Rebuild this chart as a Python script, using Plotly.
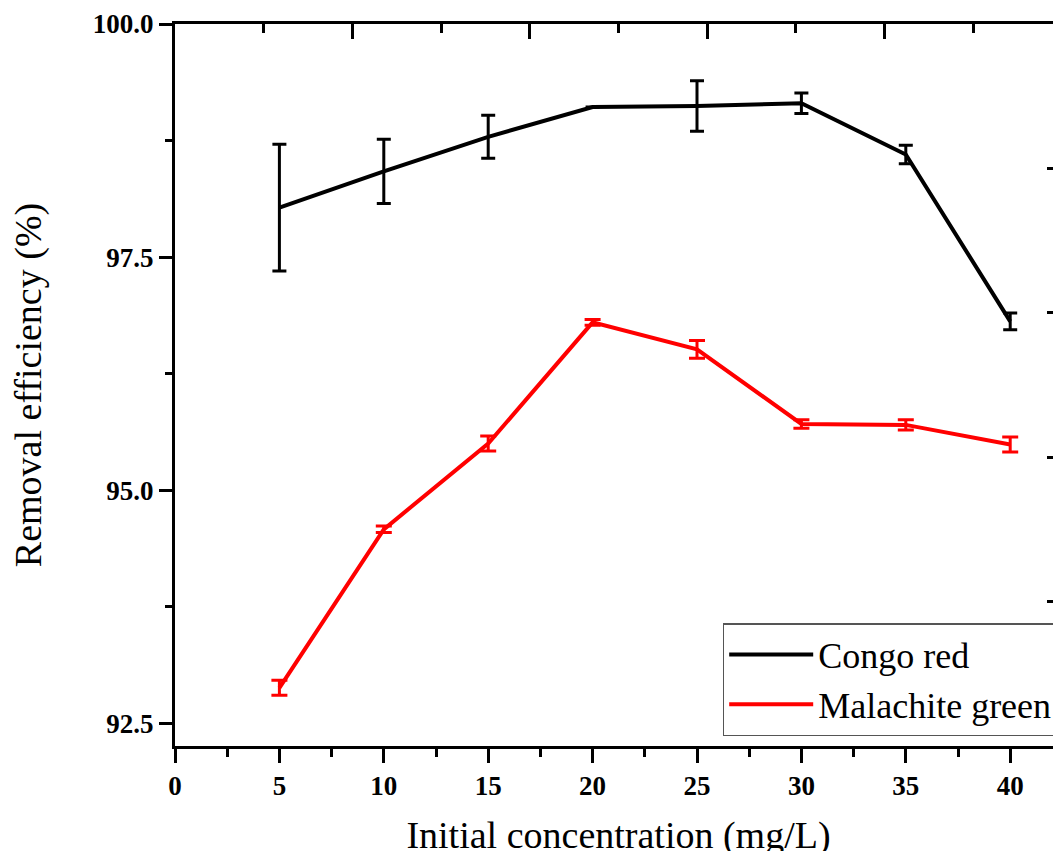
import plotly.graph_objects as go

# ---- data ----
concentration = [5, 10, 15, 20, 25, 30, 35, 40]

congo_red = [98.03, 98.42, 98.79, 99.11, 99.12, 99.15, 98.60, 96.81]
congo_red_err = [0.68, 0.345, 0.23, 0.0, 0.27, 0.11, 0.10, 0.09]

malachite_green = [92.88, 94.58, 95.50, 96.80, 96.51, 95.71, 95.70, 95.49]
malachite_green_err = [0.08, 0.035, 0.08, 0.03, 0.095, 0.045, 0.055, 0.08]

x_ticks = [0, 5, 10, 15, 20, 25, 30, 35, 40]
y_ticks = [92.5, 95.0, 97.5, 100.0]

series_names = ["Congo red", "Malachite green"]
x_title = "Initial concentration (mg/L)"
y_title = "Removal efficiency (%)"

SERIF = "Liberation Serif, Times New Roman, serif"

fig = go.Figure()
fig.add_trace(go.Scatter(
    x=concentration, y=congo_red, name=series_names[0], mode="lines",
    line=dict(color="black", width=4),
    error_y=dict(type="data", array=congo_red_err, visible=True,
                 color="black", thickness=3, width=7),
))
fig.add_trace(go.Scatter(
    x=concentration, y=malachite_green, name=series_names[1], mode="lines",
    line=dict(color="#ff0000", width=4),
    error_y=dict(type="data", array=malachite_green_err, visible=True,
                 color="#ff0000", thickness=3, width=8),
))
# invisible trace to activate the top / right frame axes
fig.add_trace(go.Scatter(x=[0], y=[0], xaxis="x2", yaxis="y2", mode="markers",
                         marker=dict(opacity=0), showlegend=False, hoverinfo="skip"))

# The reference is a crop: the plot frame continues a little past the right edge,
# so the page is drawn slightly larger than the 1053x851 window and clipped.
W, H = 1064, 857
L, R, T, B = 175, 2, 24, 111
plot_w = W - L - R
plot_h = H - T - B
px_per_x = 20.88
x_max = plot_w / px_per_x

fig.update_layout(
    template="none",
    width=W, height=H,
    margin=dict(l=L, r=R, t=T, b=B, pad=0, autoexpand=False),
    paper_bgcolor="white", plot_bgcolor="white",
    font=dict(family=SERIF, color="black"),
    showlegend=True,
    legend=dict(
        x=(722.7 - L) / plot_w, y=(746 - 623) / plot_h,
        xanchor="left", yanchor="top",
        bgcolor="white", bordercolor="#555555", borderwidth=1.5,
        font=dict(family=SERIF, size=36, color="black"),
        itemwidth=84, tracegroupgap=0,
    ),
    xaxis=dict(
        range=[0, x_max], tickvals=x_ticks, ticktext=[str(v) for v in x_ticks],
        showline=True, linecolor="black", linewidth=3, automargin=False,
        ticks="outside", ticklen=14, tickwidth=3, tickcolor="black",
        minor=dict(tickvals=[2.5, 7.5, 12.5, 17.5, 22.5, 27.5, 32.5, 37.5, 42.5],
                   ticks="outside", ticklen=8, tickwidth=3, tickcolor="black"),
        tickfont=dict(family=SERIF, size=27, weight="bold", color="black"),
        title=dict(text=x_title, font=dict(family=SERIF, size=38, color="black"),
                   standoff=40),
        showgrid=False, zeroline=False, mirror=False,
    ),
    yaxis=dict(
        range=[92.256, 100.0], tickvals=y_ticks, ticktext=[f"{v:.1f}" for v in y_ticks],
        showline=True, linecolor="black", linewidth=3, automargin=False,
        ticks="outside", ticklen=13, tickwidth=3, tickcolor="black",
        minor=dict(tickvals=[93.75, 96.25, 98.75],
                   ticks="outside", ticklen=7, tickwidth=3, tickcolor="black"),
        tickfont=dict(family=SERIF, size=27, weight="bold", color="black"),
        title=dict(text=y_title, font=dict(family=SERIF, size=38, color="black"),
                   standoff=40),
        showgrid=False, zeroline=False, mirror=False,
    ),
    xaxis2=dict(
        overlaying="x", side="top", range=[0, plot_w / 88.7], automargin=False,
        showline=True, linecolor="black", linewidth=3,
        tickvals=[0, 2, 4, 6, 8, 10], showticklabels=False,
        ticks="inside", ticklen=15, tickwidth=3, tickcolor="black",
        minor=dict(tickvals=[1, 3, 5, 7, 9], ticks="inside", ticklen=9,
                   tickwidth=3, tickcolor="black"),
        showgrid=False, zeroline=False,
    ),
    yaxis2=dict(
        overlaying="y", side="right", range=[0, 5], automargin=False,
        showline=True, linecolor="black", linewidth=3,
        tickvals=[0, 1, 2, 3, 4, 5], showticklabels=False,
        ticks="inside", ticklen=15, tickwidth=3, tickcolor="black",
        showgrid=False, zeroline=False,
    ),
)

fig.write_html(
    "out.html",
    config={"displayModeBar": False},
    post_script="document.body.style.margin='0';document.body.style.overflow='hidden';",
)
